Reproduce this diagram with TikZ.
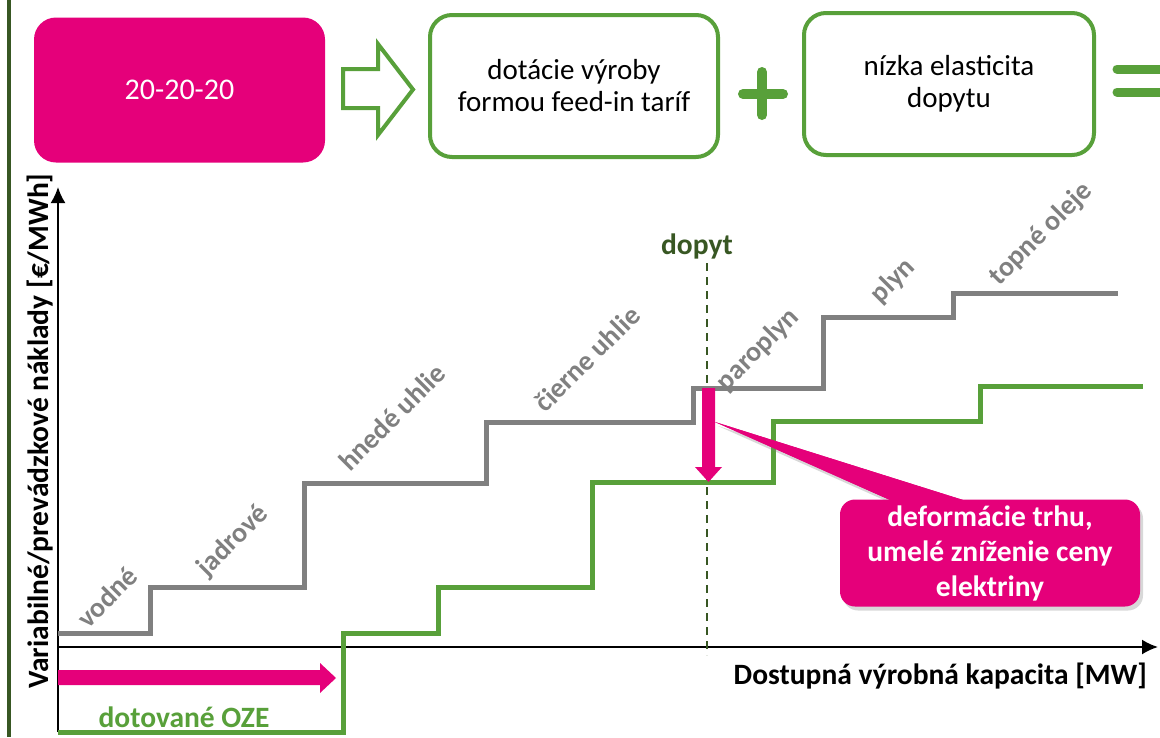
\documentclass[tikz,border=0pt]{standalone}
\usepackage{fontspec}
\setmainfont{Carlito}
\usetikzlibrary{shadows,arrows.meta}
\definecolor{mag}{HTML}{E5007A}
\definecolor{grn}{HTML}{58A03A}
\definecolor{dgrn}{HTML}{385723}
\definecolor{stepgray}{HTML}{808080}
\begin{document}
\begin{tikzpicture}[x=1pt,y=-1pt,
  txt/.style={font=\fontsize{29}{32}\selectfont, align=center, inner sep=0pt},
  btxt/.style={font=\fontsize{29.5}{35}\selectfont\bfseries, align=center, inner sep=0pt},
  gbox/.style={draw=grn, line width=4pt, rounded corners=22pt, minimum height=142pt},
  lbl/.style={font=\fontsize{28}{30}\selectfont\bfseries, text=stepgray, rotate=45, inner sep=0pt},
  axisline/.style={line width=2pt, -{Latex[length=16pt,width=15pt]}},
  steps/.style={line width=5pt},
  sym/.style={grn, line width=10pt, line cap=round},
  blockarrow/.style={fill=mag, draw=none}
]
\useasboundingbox (0,0) rectangle (1160,737);
\fill[white] (0,0) rectangle (1160,737);
% left border
\draw[dgrn, line width=4pt] (9,0) -- (9,737);

% top row
\node[fill=mag, rounded corners=22pt, minimum width=291pt, minimum height=145pt, txt, font=\fontsize{30}{32}\selectfont, text=white] (target) at (179.5,90) {20-20-20};
\draw[grn, line width=4pt, line join=miter] (343,69) -- (378,69) -- (378,44) -- (413,89.5) -- (378,135) -- (378,108) -- (343,108) -- cycle;
\node[gbox, minimum width=288pt, txt] (fit) at (574,86) {dotácie výroby\\formou feed-in taríf};
\node[sym, draw=none, inner sep=0pt] (plus) at (762,94) {};
\draw[sym] (743,94) -- (783,94);
\draw[sym] (762,72) -- (762,115);
\node[gbox, minimum width=290pt, txt] (elast) at (949,84) {nízka elasticita\\dopytu};
\draw[sym, line width=9pt] (1117,69) -- (1175,69);
\draw[sym, line width=9pt] (1117,92) -- (1175,92);

% axes
\coordinate (ybot) at (58,732);
\coordinate (ytop) at (58,187);
\coordinate (xl) at (58,647);
\coordinate (xr) at (1158,647);
\draw[axisline] (ybot) -- (ytop);
\draw[axisline] (xl) -- (xr);
\node[btxt, rotate=90] (ylab) at (40,431) {Variabilné/prevádzkové náklady [€/MWh]};
\node[btxt, anchor=east] (xlab) at (1147,676) {Dostupná výrobná kapacita [MW]};

% demand line
\node[btxt, text=dgrn] (dopyt) at (697,246) {dopyt};
\coordinate (dbot) at (707,655);
\draw[dgrn, line width=1.5pt, dash pattern=on 8pt off 6pt] (707,263) -- (dbot);

% merit order curves
\draw[stepgray, steps] (58,633) -| (150,587) -| (304,483) -| (486,422) -| (693,388) -| (823,317) -| (953,293) -- (1118,293);
\draw[grn, steps] (58,732) -| (343,633) -| (438,587) -| (592,482) -| (773,421) -| (980,386) -- (1143,386);

% technology labels
\node[lbl] (l1) at (107,597) {vodné};
\node[lbl] (l2) at (233,541) {jadrové};
\node[lbl] (l3) at (392,417) {hnedé uhlie};
\node[lbl] (l4) at (587,359) {čierne uhlie};
\node[lbl] (l5) at (758,350) {paroplyn};
\node[lbl] (l6) at (893,281) {plyn};
\node[lbl] (l7) at (1041,234) {topné oleje};

% pink arrows
\fill[blockarrow] (702,388) -- (715,388) -- (715,467) -- (722,467) -- (708.5,482) -- (695,467) -- (702,467) -- cycle;
\fill[blockarrow] (58,670) -- (320,670) -- (320,663) -- (336,678) -- (320,693) -- (320,685) -- (58,685) -- cycle;
\node[btxt, text=grn] (oze) at (184,717) {dotované OZE};

% callout
\fill[mag, drop shadow={opacity=0.3, shadow xshift=3pt, shadow yshift=-4pt}] (715,422) -- (963,500) -- (890,500) -- cycle;
\node[fill=mag, rounded corners=15pt, minimum width=300pt, minimum height=107pt, btxt, text=white,
      drop shadow={opacity=0.3, shadow xshift=3pt, shadow yshift=-4pt}] (callout) at (990,553)
  {deformácie trhu,\\umelé zníženie ceny\\elektriny};
\fill[mag] (715,422) -- (963,500) -- (890,500) -- cycle;
\end{tikzpicture}
\end{document}
